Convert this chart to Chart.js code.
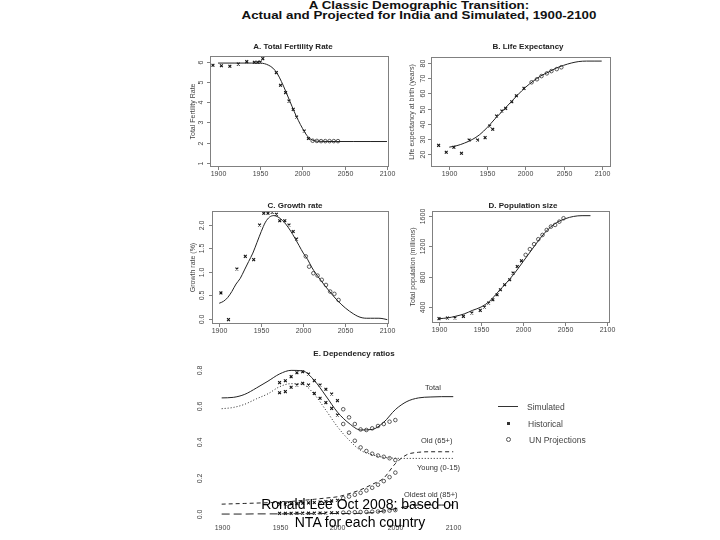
<!DOCTYPE html>
<html>
<head>
<meta charset="utf-8">
<title>A Classic Demographic Transition</title>
<script src="https://cdn.jsdelivr.net/npm/chart.js@4.4.1/dist/chart.umd.min.js"></script>
<style>
  html, body { margin: 0; padding: 0; background: #fff; }
  body { position: relative; width: 720px; height: 540px; overflow: hidden; font-family: "Liberation Sans", Arial, sans-serif; color: #222; }
  canvas { position: absolute; }
  .lbl { position: absolute; white-space: nowrap; line-height: 1; transform: translate(-50%, -50%); }
  .lft { transform: translate(0, -50%); }
  .main { font-weight: bold; font-size: 11.3px; color: #111; transform: translate(-50%, -50%) scaleX(1.18); }
  .ptitle { font-weight: bold; font-size: 8px; color: #222; }
  .note { font-size: 7.5px; color: #333; }
  .leg { font-size: 8.5px; color: #444; }
  .mark { z-index: 5; font-size: 14px; color: #000; text-align: center; line-height: 18px; }
</style>
</head>
<body>

<canvas id="tfr" width="220" height="145" style="left:180px;top:40px"></canvas>
<canvas id="life" width="225" height="145" style="left:400px;top:40px"></canvas>
<canvas id="growth" width="220" height="145" style="left:180px;top:195px"></canvas>
<canvas id="pop" width="225" height="145" style="left:400px;top:195px"></canvas>
<canvas id="dep" width="290" height="195" style="left:180px;top:345px"></canvas>

<div class="lbl main" style="left:419px;top:5.5px">A Classic Demographic Transition:</div>
<div class="lbl main" style="left:419px;top:15.5px">Actual and Projected for India and Simulated, 1900-2100</div>

<div class="lbl ptitle" style="left:293px;top:47px">A. Total Fertility Rate</div>
<div class="lbl ptitle" style="left:528px;top:47px">B. Life Expectancy</div>
<div class="lbl ptitle" style="left:295px;top:205.5px">C. Growth rate</div>
<div class="lbl ptitle" style="left:523px;top:205.5px">D. Population size</div>
<div class="lbl ptitle" style="left:354px;top:354px">E. Dependency ratios</div>

<div class="lbl lft note" style="left:425px;top:388px">Total</div>
<div class="lbl lft note" style="left:421px;top:441px">Old (65+)</div>
<div class="lbl lft note" style="left:417px;top:468px">Young (0-15)</div>
<div class="lbl lft note" style="left:404px;top:495px">Oldest old (85+)</div>

<div style="position:absolute;left:498px;top:406px;width:20px;border-top:1px solid #333"></div>
<div class="lbl lft leg" style="left:527px;top:407px">Simulated</div>
<div style="position:absolute;left:507px;top:422px;width:3px;height:3px;background:#333"></div>
<div class="lbl lft leg" style="left:528px;top:423.5px">Historical</div>
<div style="position:absolute;left:506px;top:437px;width:3px;height:3px;border:1px solid #555;border-radius:50%"></div>
<div class="lbl lft leg" style="left:529px;top:440px">UN Projections</div>

<div class="lbl mark" style="left:360px;top:513px">Ronald Lee Oct 2008; based on<br>NTA for each country</div>

<script>
// tick labels
const yearTicks = [1900, 1950, 2000, 2050, 2100];
const tfrTicks = [1, 2, 3, 4, 5, 6];
const lifeTicks = [20, 30, 40, 50, 60, 70, 80];
const growthTicks = [0, 0.5, 1, 1.5, 2];
const growthLabels = ['0.0', '0.5', '1.0', '1.5', '2.0'];
const popTicks = [400, 800, 1200, 1600];
const depTicks = [0, 0.2, 0.4, 0.6, 0.8];
const depLabels = ['0.0', '0.2', '0.4', '0.6', '0.8'];

// A. total fertility rate
const tfrSimYears = [1900, 1920, 1940, 1950, 1955, 1960, 1965, 1970, 1975, 1980, 1985, 1990, 1995, 2000, 2005, 2010, 2015, 2020, 2040, 2060, 2080, 2100];
const tfrSim = [5.93, 5.93, 5.93, 5.93, 5.9, 5.82, 5.68, 5.42, 5.02, 4.55, 4.05, 3.55, 3.1, 2.7, 2.36, 2.16, 2.08, 2.06, 2.05, 2.05, 2.05, 2.05];
const tfrHistYears = [1894, 1904, 1914, 1924, 1934, 1943, 1947, 1950, 1953, 1969, 1974, 1980, 1984, 1989, 1993, 2002, 2007];
const tfrHist = [5.82, 5.8, 5.77, 5.88, 6.0, 5.97, 5.97, 5.98, 6.15, 5.46, 4.83, 4.47, 4.05, 3.64, 3.26, 2.57, 2.2];
const tfrUNYears = [2012, 2017, 2022, 2027, 2032, 2037, 2042];
const tfrUN = [2.09, 2.08, 2.07, 2.07, 2.07, 2.07, 2.07];

// B. life expectancy
const lifeSimYears = [1900, 1910, 1920, 1930, 1940, 1950, 1960, 1970, 1980, 1990, 2000, 2010, 2020, 2030, 2040, 2050, 2060, 2070, 2080, 2090, 2100];
const lifeSim = [24.5, 25.5, 27.2, 29.5, 32.8, 37.6, 43.2, 48.4, 53.8, 59.1, 64, 68, 71.5, 74, 76.6, 78.5, 80, 81, 81.3, 81.3, 81.3];
const lifeHistYears = [1886, 1896, 1906, 1916, 1926, 1937, 1947, 1953, 1957, 1962, 1969, 1974, 1982, 1988, 1998];
const lifeHist = [25.7, 21.1, 24.4, 20.5, 29.2, 29.2, 30.8, 38.5, 36.3, 45.1, 48.4, 50.1, 54.5, 58.4, 63.3];
const lifeUNYears = [2008, 2015, 2021, 2028, 2034, 2041, 2047];
const lifeUN = [67.3, 69.3, 71.4, 73.2, 74.7, 76.0, 77.2];

// C. growth rate (%)
const growthSimYears = [1900, 1905, 1910, 1915, 1920, 1925, 1930, 1935, 1940, 1945, 1950, 1955, 1960, 1965, 1970, 1975, 1980, 1985, 1990, 1995, 2000, 2005, 2010, 2015, 2020, 2025, 2030, 2035, 2040, 2045, 2050, 2055, 2060, 2065, 2070, 2075, 2080, 2085, 2090, 2095, 2100];
const growthSim = [0.33, 0.37, 0.45, 0.58, 0.74, 0.86, 1.04, 1.22, 1.4, 1.63, 1.86, 2.06, 2.17, 2.2, 2.17, 2.1, 2.0, 1.87, 1.72, 1.56, 1.4, 1.27, 1.1, 0.96, 0.84, 0.72, 0.61, 0.5, 0.4, 0.31, 0.23, 0.16, 0.1, 0.05, 0.02, 0.01, 0.01, 0.01, 0.01, 0.0, -0.02];
const growthHistYears = [1902, 1911, 1921, 1931, 1941, 1948, 1953, 1958, 1963, 1968, 1972, 1978, 1983, 1988, 1992];
const growthHist = [0.55, -0.02, 1.06, 1.33, 1.26, 2.0, 2.25, 2.25, 2.27, 2.23, 2.09, 2.09, 2.0, 1.86, 1.7];
const growthUNYears = [2003, 2007, 2012, 2017, 2022, 2027, 2032, 2037, 2042];
const growthUN = [1.33, 1.11, 0.97, 0.92, 0.83, 0.72, 0.58, 0.53, 0.4];

// D. population size (millions)
const popSimYears = [1900, 1910, 1920, 1930, 1940, 1950, 1960, 1970, 1980, 1990, 2000, 2010, 2020, 2030, 2040, 2050, 2060, 2070, 2080];
const popSim = [253, 262, 285, 315, 362, 405, 480, 600, 720, 850, 1000, 1150, 1300, 1425, 1510, 1560, 1590, 1600, 1600];
const popHistYears = [1900, 1910, 1919, 1929, 1939, 1949, 1954, 1959, 1964, 1969, 1973, 1978, 1984, 1988, 1993, 1998];
const popHist = [253, 262, 262, 283, 327, 361, 405, 457, 500, 566, 631, 696, 761, 849, 935, 1009];
const popUNYears = [2003, 2008, 2013, 2018, 2023, 2028, 2033, 2038, 2043, 2048];
const popUN = [1087, 1162, 1227, 1292, 1348, 1413, 1457, 1479, 1522, 1566];

// E. dependency ratios
const depSimYears = [1900, 1910, 1920, 1930, 1940, 1950, 1960, 1970, 1980, 1990, 2000, 2010, 2020, 2030, 2040, 2050, 2060, 2070, 2080, 2090, 2100];
const totalSim = [0.645, 0.648, 0.665, 0.7, 0.738, 0.778, 0.798, 0.795, 0.742, 0.656, 0.566, 0.504, 0.467, 0.47, 0.51, 0.58, 0.625, 0.645, 0.65, 0.652, 0.652];
const youngSim = [0.585, 0.592, 0.61, 0.64, 0.668, 0.707, 0.724, 0.72, 0.665, 0.577, 0.485, 0.411, 0.354, 0.33, 0.315, 0.31, 0.309, 0.309, 0.309, 0.309, 0.309];
const oldSim = [0.055, 0.057, 0.059, 0.061, 0.063, 0.065, 0.07, 0.076, 0.082, 0.089, 0.096, 0.113, 0.135, 0.165, 0.2, 0.28, 0.33, 0.343, 0.346, 0.346, 0.346];
const oldestSim = [0.0, 0.0, 0.0, 0.001, 0.001, 0.001, 0.002, 0.002, 0.002, 0.003, 0.003, 0.003, 0.004, 0.008, 0.017, 0.03, 0.042, 0.05, 0.05, 0.05, 0.05];
const depHistYears = [1950, 1955, 1960, 1965, 1970, 1975, 1980, 1985, 1990, 1995, 2000];
const totalHist = [0.73, 0.74, 0.763, 0.785, 0.79, 0.778, 0.741, 0.717, 0.693, 0.667, 0.63];
const youngHist = [0.674, 0.68, 0.704, 0.717, 0.726, 0.717, 0.67, 0.643, 0.619, 0.587, 0.55];
const oldHist = [0.055, 0.056, 0.057, 0.058, 0.06, 0.062, 0.064, 0.067, 0.07, 0.073, 0.077];
const oldestHist = [0.004, 0.004, 0.004, 0.005, 0.005, 0.005, 0.005, 0.006, 0.006, 0.007, 0.007];
const depUNYears = [2005, 2010, 2015, 2020, 2025, 2030, 2035, 2040, 2045, 2050];
const totalUN = [0.582, 0.537, 0.5, 0.47, 0.467, 0.476, 0.489, 0.5, 0.513, 0.522];
const youngUN = [0.5, 0.452, 0.407, 0.37, 0.35, 0.335, 0.325, 0.318, 0.31, 0.3];
const oldUN = [0.088, 0.097, 0.107, 0.118, 0.131, 0.146, 0.163, 0.183, 0.205, 0.23];
const oldestUN = [0.008, 0.009, 0.01, 0.011, 0.012, 0.013, 0.014, 0.016, 0.019, 0.022];


// helpers to turn the arrays into datasets
const pts = (xs, ys) => xs.map((x, i) => ({ x: x, y: ys[i] }));

const simLine = (xs, ys, dash) => ({
    data: pts(xs, ys),
    borderColor: '#222',
    borderWidth: 1,
    borderDash: dash || [],
    pointRadius: 0,
    cubicInterpolationMode: 'monotone',
    fill: false
});

const histPts = (xs, ys) => ({
    data: pts(xs, ys),
    showLine: false,
    pointStyle: 'crossRot',
    pointRadius: 2,
    borderColor: '#111',
    borderWidth: 1.1
});

const unPts = (xs, ys) => ({
    data: pts(xs, ys),
    showLine: false,
    pointStyle: 'circle',
    pointRadius: 1.8,
    borderColor: '#333',
    backgroundColor: 'rgba(0,0,0,0)',
    borderWidth: 0.8
});


/* R-like frame: box, outside ticks, rotated y labels */
const rAxes = {
    id: 'rAxes',
    afterDatasetsDraw(chart, args, o) {
        const ctx = chart.ctx;
        const a = chart.chartArea;
        const xs = chart.scales.x;
        const ys = chart.scales.y;
        ctx.save();
        ctx.lineWidth = 1;
        ctx.strokeStyle = '#808080';
        if (o.box) {
            ctx.strokeRect(Math.round(a.left) + 0.5, Math.round(a.top) + 0.5,
                Math.round(a.right - a.left) - 1, Math.round(a.bottom - a.top) - 1);
        }
        ctx.fillStyle = '#444';
        ctx.font = '7px "Liberation Sans", Arial, sans-serif';
        ctx.textAlign = 'center';
        ctx.textBaseline = 'middle';
        o.xTicks.forEach(v => {
            const px = Math.round(xs.getPixelForValue(v)) + 0.5;
            if (o.box) {
                ctx.beginPath(); ctx.moveTo(px, a.bottom); ctx.lineTo(px, a.bottom + 3); ctx.stroke();
            }
            ctx.fillText(String(v), px, a.bottom + o.xGap);
        });
        o.yTicks.forEach((v, i) => {
            const py = Math.round(ys.getPixelForValue(v)) + 0.5;
            if (o.box) {
                ctx.beginPath(); ctx.moveTo(a.left, py); ctx.lineTo(a.left - 3, py); ctx.stroke();
            }
            ctx.save();
            ctx.translate(a.left - o.yGap, py);
            ctx.rotate(-Math.PI / 2);
            ctx.fillText(o.yLabels ? o.yLabels[i] : String(v), 0, 0);
            ctx.restore();
        });
        if (o.yTitle) {
            ctx.save();
            ctx.translate(a.left - o.tGap, (a.top + a.bottom) / 2);
            ctx.rotate(-Math.PI / 2);
            ctx.fillText(o.yTitle, 0, 0);
            ctx.restore();
        }
        ctx.restore();
    }
};

function panel(id, padding, xRange, yRange, datasets, frame) {
    return new Chart(document.getElementById(id), {
        type: 'line',
        data: { datasets: datasets },
        options: {
            responsive: false,
            animation: false,
            layout: { padding: padding },
            scales: {
                x: { type: 'linear', min: xRange[0], max: xRange[1], display: false },
                y: { type: 'linear', min: yRange[0], max: yRange[1], display: false }
            },
            plugins: {
                legend: { display: false },
                tooltip: { enabled: false },
                rAxes: frame
            }
        },
        plugins: [rAxes]
    });
}


// A
panel('tfr', { left: 30, right: 11, top: 16, bottom: 18 }, [1890.5, 2102.4], [0.79, 6.28], [
    simLine(tfrSimYears, tfrSim),
    histPts(tfrHistYears, tfrHist),
    unPts(tfrUNYears, tfrUN)
], { box: true, xTicks: yearTicks, yTicks: tfrTicks, xGap: 7, yGap: 9.3, tGap: 16.7, yTitle: 'Total Fertility Rate' });

// B
panel('life', { left: 31, right: 14, top: 17, bottom: 18 }, [1876, 2112.2], [11.4, 84], [
    simLine(lifeSimYears, lifeSim),
    histPts(lifeHistYears, lifeHist),
    unPts(lifeUNYears, lifeUN)
], { box: true, xTicks: yearTicks, yTicks: lifeTicks, xGap: 7, yGap: 8.2, tGap: 19.3, yTitle: 'Life expectancy at birth (years)' });

// C
panel('growth', { left: 32, right: 11, top: 16, bottom: 16 }, [1891.4, 2102], [-0.113, 2.298], [
    simLine(growthSimYears, growthSim),
    histPts(growthHistYears, growthHist),
    unPts(growthUNYears, growthUN)
], { box: true, xTicks: yearTicks, yTicks: growthTicks, yLabels: growthLabels, xGap: 7, yGap: 10.3, tGap: 18.7, yTitle: 'Growth rate (%)' });

// D
panel('pop', { left: 32, right: 15, top: 16, bottom: 17 }, [1891.7, 2103.2], [196, 1661], [
    simLine(popSimYears, popSim),
    histPts(popHistYears, popHist),
    unPts(popUNYears, popUN)
], { box: true, xTicks: yearTicks, yTicks: popTicks, xGap: 7, yGap: 8.7, tGap: 18.7, yTitle: 'Total population (millions)' });

// E
panel('dep', { left: 32.4, right: 7.5, top: 17.8, bottom: 20 }, [1892, 2108], [-0.033, 0.84], [
    simLine(depSimYears, totalSim),
    simLine(depSimYears, youngSim, [1, 2]),
    simLine(depSimYears, oldSim, [4, 3]),
    simLine(depSimYears, oldestSim, [8, 4]),
    histPts(depHistYears, totalHist),
    histPts(depHistYears, youngHist),
    histPts(depHistYears, oldHist),
    histPts(depHistYears, oldestHist),
    unPts(depUNYears, totalUN),
    unPts(depUNYears, youngUN),
    unPts(depUNYears, oldUN),
    unPts(depUNYears, oldestUN)
], { box: false, xTicks: yearTicks, yTicks: depTicks, yLabels: depLabels, xGap: 8, yGap: 12.4 });
</script>
</body>
</html>
